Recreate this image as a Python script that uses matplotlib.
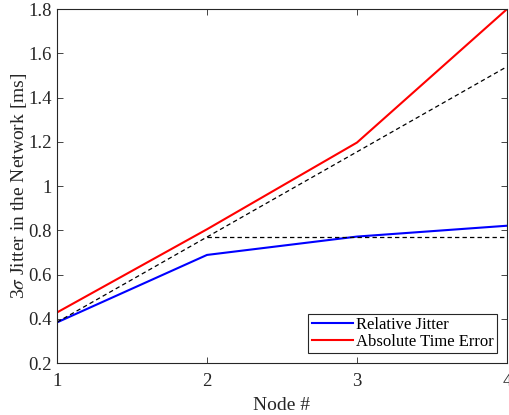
import numpy as np
import matplotlib.pyplot as plt

plt.rcParams['font.family'] = ['Liberation Serif', 'DejaVu Serif']
plt.rcParams['mathtext.fontset'] = 'stix'

nodes = [1, 2, 3, 4]
relative_jitter = [0.384, 0.689, 0.772, 0.821]
absolute_error = [0.429, 0.805, 1.197, 1.800]
# reference lines: linear growth and flat level
linear_ref = [0.385, 0.770, 1.155, 1.540]
flat_nodes = [2, 3, 4]
flat_ref = [0.769, 0.769, 0.769]

fig = plt.figure(figsize=(5.09, 4.15), dpi=100)
ax = fig.add_axes([0.112, 0.125, 0.884, 0.853])

ax.plot(nodes, relative_jitter, color='#0000ff', lw=1.5, label='Relative Jitter')
ax.plot(nodes, absolute_error, color='#ff0000', lw=1.5, label='Absolute Time Error')
ax.plot(nodes, linear_ref, 'k--', lw=0.9, dashes=(3.5, 2.5))
ax.plot(flat_nodes, flat_ref, 'k--', lw=0.9, dashes=(3.5, 2.5))

ax.set_xlim(1, 4)
ax.set_ylim(0.2, 1.8)
ax.set_xticks([1, 2, 3, 4])
ax.set_yticks(np.arange(0.2, 1.81, 0.2))
ax.set_yticklabels(['0.2', '0.4', '0.6', '0.8', '1', '1.2', '1.4', '1.6', '1.8'])
ax.tick_params(direction='in', top=True, right=True, labelsize=13.5, colors='#262626',
               length=4, width=0.6, pad=4)
ax.tick_params(axis='x', pad=7)
for sp in ax.spines.values():
    sp.set_linewidth(0.8)
    sp.set_color('#262626')

ax.set_xlabel('Node #', fontsize=14, color='#262626', labelpad=5)
ax.set_ylabel(r'3$\sigma$ Jitter in the Network [ms]', fontsize=14, color='#262626',
              labelpad=-1)

leg = ax.legend(loc='lower right', fontsize=12, fancybox=False, edgecolor='#262626',
                framealpha=1, borderpad=0.2, handlelength=2.45, handletextpad=0.2,
                labelspacing=0.05, borderaxespad=0.6)
leg.get_frame().set_linewidth(0.8)

fig.savefig('out.png', dpi=100)
